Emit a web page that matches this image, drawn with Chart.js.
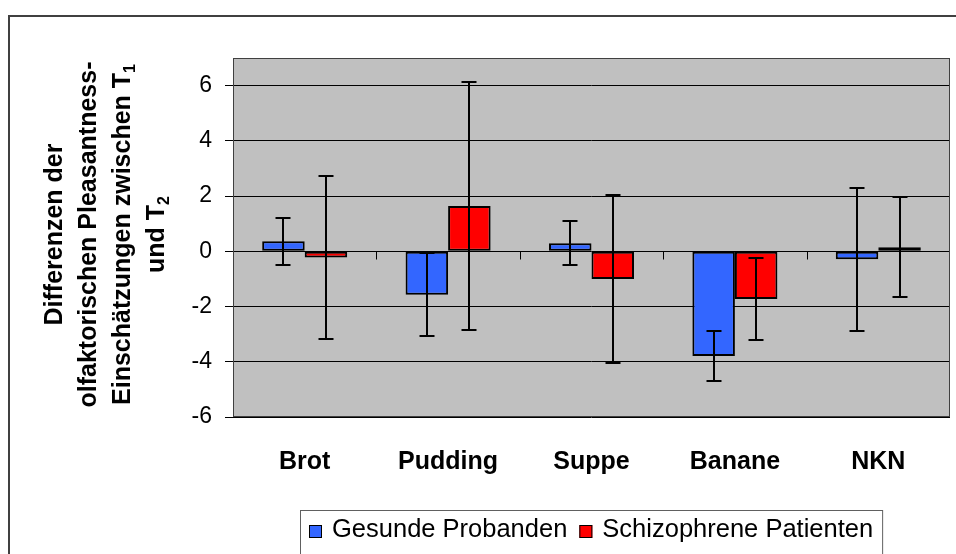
<!DOCTYPE html>
<html lang="de">
<head>
<meta charset="utf-8">
<title>Differenzen der olfaktorischen Pleasantness-Einschätzungen</title>
<script src="https://cdn.jsdelivr.net/npm/chart.js@4.4.1/dist/chart.umd.min.js"></script>
<style>
  html, body { margin: 0; padding: 0; background: #fff; }
</style>
</head>
<body>
<canvas id="chart" width="956" height="554"></canvas>
<script>
// Data
const categories = ['Brot', 'Pudding', 'Suppe', 'Banane', 'NKN'];
const gesundeValues = [0.36, -1.57, 0.29, -3.79, -0.29];
const gesundeErrors = [0.86, 1.50, 0.79, 0.92, 2.58];
const schizoValues = [-0.22, 1.64, -1.00, -1.73, 0.15];
const schizoErrors = [2.96, 4.50, 3.04, 1.47, 1.80];
const yTicks = [-6, -4, -2, 0, 2, 4, 6];
const yMin = -6;
const yMax = 7;

// Axis title, rotated; last two lines end with a subscript
const yTitleLines = ['Differenzen der', 'olfaktorischen Pleasantness-', 'Einschätzungen zwischen T', 'und T'];
const yTitleSubs = ['', '', '1', '2'];

const FONT = '"Liberation Sans", Arial, sans-serif';

// Background, outer frame, plot border and category ticks on the zero line
const framePlugin = {
    id: 'frame',
    beforeDraw(chart) {
        const { ctx, chartArea: a } = chart;
        ctx.save();
        ctx.fillStyle = '#ffffff';
        ctx.fillRect(0, 0, chart.width, chart.height);
        ctx.strokeStyle = '#404040';
        ctx.lineWidth = 2;
        ctx.strokeRect(9, 16, chart.width + 40, chart.height + 40);
        ctx.fillStyle = '#c0c0c0';
        ctx.fillRect(a.left, a.top, a.right - a.left, a.bottom - a.top);
        ctx.restore();
    },
    beforeDatasetsDraw(chart) {
        const { ctx, chartArea: a, scales: { x, y } } = chart;
        ctx.save();
        ctx.strokeStyle = '#404040';
        ctx.lineWidth = 1;
        ctx.strokeRect(a.left + 0.5, a.top + 0.5, a.right - a.left - 1, a.bottom - a.top - 1);

        const y0 = Math.round(y.getPixelForValue(0)) + 0.5;
        ctx.strokeStyle = '#000000';
        ctx.beginPath();
        for (let i = 1; i < categories.length; i++) {
            const xb = Math.round((x.getPixelForValue(i - 1) + x.getPixelForValue(i)) / 2) + 0.5;
            ctx.moveTo(xb, y0);
            ctx.lineTo(xb, y0 + 8);
        }
        ctx.stroke();
        ctx.restore();
    }
};

// Symmetric error bars with caps
const errorBarPlugin = {
    id: 'errorBars',
    afterDatasetsDraw(chart) {
        const { ctx, scales: { y } } = chart;
        ctx.save();
        ctx.strokeStyle = '#000000';
        ctx.lineWidth = 2;
        chart.data.datasets.forEach((ds, di) => {
            const meta = chart.getDatasetMeta(di);
            meta.data.forEach((bar, i) => {
                const v = ds.data[i];
                const e = ds.errors[i];
                const top = Math.round(y.getPixelForValue(v + e));
                const bot = Math.round(y.getPixelForValue(v - e));
                const cx = Math.round(bar.x);
                ctx.beginPath();
                ctx.moveTo(cx, top);
                ctx.lineTo(cx, bot);
                ctx.moveTo(cx - 7.5, top);
                ctx.lineTo(cx + 7.5, top);
                ctx.moveTo(cx - 7.5, bot);
                ctx.lineTo(cx + 7.5, bot);
                ctx.stroke();
            });
        });
        ctx.restore();
    }
};

// Rotated multi-line y title with subscripts, and the framed legend
const textPlugin = {
    id: 'texts',
    afterDraw(chart) {
        const { ctx, chartArea: a } = chart;
        const cy = (a.top + a.bottom) / 2 - 3;
        ctx.save();
        ctx.translate(0, cy);
        ctx.rotate(-Math.PI / 2);
        ctx.fillStyle = '#000000';
        ctx.textBaseline = 'alphabetic';
        ctx.textAlign = 'left';
        yTitleLines.forEach((line, i) => {
            const base = 62 + i * 34;
            ctx.font = 'bold 25px ' + FONT;
            const w1 = ctx.measureText(line).width;
            ctx.font = 'bold 16px ' + FONT;
            const w2 = yTitleSubs[i] ? ctx.measureText(yTitleSubs[i]).width : 0;
            const start = -(w1 + w2) / 2;
            ctx.font = 'bold 25px ' + FONT;
            ctx.fillText(line, start, base);
            if (yTitleSubs[i]) {
                ctx.font = 'bold 16px ' + FONT;
                ctx.fillText(yTitleSubs[i], start + w1, base + 5);
            }
        });
        ctx.restore();

        // legend: swatch, gap, text; items centred under the plot area
        const sw = 14, gap = 9, itemGap = 12, pad = 9;
        ctx.save();
        ctx.font = '25.5px ' + FONT;
        const items = chart.data.datasets.map(ds => ({
            text: ds.label,
            color: ds.backgroundColor,
            w: ctx.measureText(ds.label).width
        }));
        const total = items.reduce((s, it) => s + sw + gap + it.w, 0) + itemGap * (items.length - 1);
        let x = Math.round((a.left + a.right) / 2 - total / 2);
        const midY = 530;
        ctx.strokeStyle = '#606060';
        ctx.lineWidth = 1;
        const boxTop = 510.5;
        ctx.strokeRect(x - pad + 0.5, boxTop, total + 2 * pad, chart.height + 20 - boxTop);
        ctx.textBaseline = 'middle';
        ctx.textAlign = 'left';
        items.forEach(it => {
            ctx.fillStyle = it.color;
            ctx.fillRect(x, midY - 5, sw - 1, sw - 1);
            ctx.strokeStyle = '#000000';
            ctx.strokeRect(x + 0.5, midY - 4.5, sw - 2, sw - 2);
            ctx.fillStyle = '#000000';
            ctx.fillText(it.text, x + sw + gap, midY);
            x += sw + gap + it.w + itemGap;
        });
        ctx.restore();
    }
};

new Chart(document.getElementById('chart'), {
    type: 'bar',
    data: {
        labels: categories,
        datasets: [
            {
                label: 'Gesunde Probanden',
                data: gesundeValues,
                errors: gesundeErrors,
                backgroundColor: '#3366ff',
                borderColor: '#000000',
                borderWidth: 2,
                borderSkipped: false,
                barPercentage: 1.0,
                categoryPercentage: 0.593
            },
            {
                label: 'Schizophrene Patienten',
                data: schizoValues,
                errors: schizoErrors,
                backgroundColor: '#ff0000',
                borderColor: '#000000',
                borderWidth: 2,
                borderSkipped: false,
                barPercentage: 1.0,
                categoryPercentage: 0.593
            }
        ]
    },
    options: {
        responsive: false,
        animation: false,
        layout: {
            padding: { top: 58, right: 6, bottom: 44, left: 0 }
        },
        plugins: {
            legend: { display: false },
            tooltip: { enabled: false }
        },
        scales: {
            x: {
                grid: { display: false, drawTicks: false },
                border: { display: false },
                ticks: {
                    color: '#000000',
                    font: { family: FONT, size: 25, weight: 'bold' },
                    padding: 30,
                    maxRotation: 0
                },
                afterFit(scale) { scale.height = 93; }
            },
            y: {
                min: yMin,
                max: yMax,
                afterBuildTicks(scale) {
                    scale.ticks = yTicks.map(v => ({ value: v }));
                },
                grid: {
                    color: '#000000',
                    lineWidth: 1,
                    drawTicks: true,
                    tickLength: 8
                },
                border: { display: false },
                ticks: {
                    color: '#000000',
                    font: { family: FONT, size: 23 },
                    padding: 13
                },
                afterFit(scale) { scale.width = 233; }
            }
        }
    },
    plugins: [framePlugin, errorBarPlugin, textPlugin]
});
</script>
</body>
</html>
